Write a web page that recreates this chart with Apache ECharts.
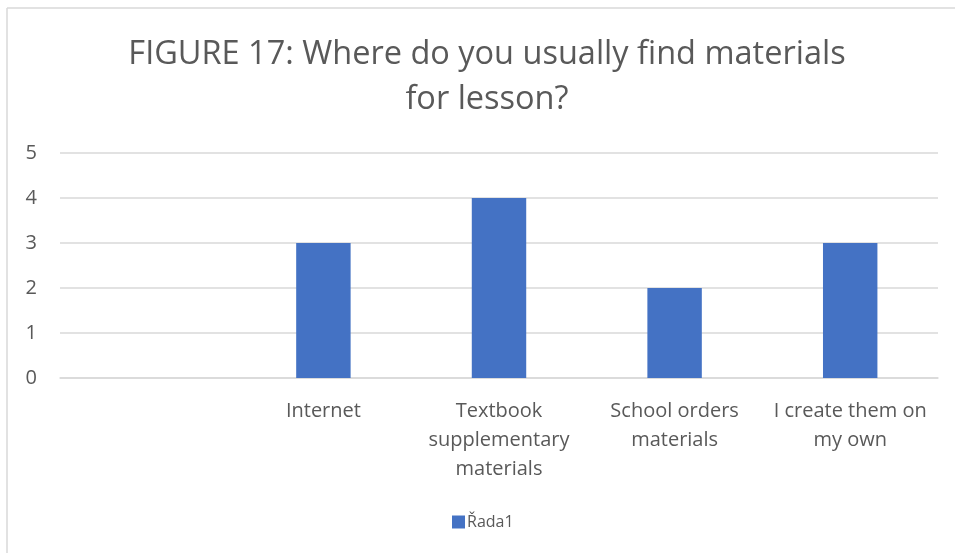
<!DOCTYPE html>
<html>
<head>
<meta charset="utf-8">
<script src="https://cdn.jsdelivr.net/npm/echarts@6/dist/echarts.min.js"></script>
<style>
  html, body { margin: 0; padding: 0; background: #fff; }
  #chart { width: 955px; height: 553px; }
</style>
</head>
<body>
<div id="chart"></div>
<script>
const titleText = "FIGURE 17: Where do you usually find materials\nfor lesson?";
const categories = ["", "Internet", "Textbook\nsupplementary\nmaterials", "School orders\nmaterials", "I create them on\nmy own"];
const values = [null, 3, 4, 2, 3];
const seriesName = "Řada1";
const yTicks = { min: 0, max: 5, interval: 1 };

const font = "'Open Sans', 'Noto Sans', sans-serif";
const textColor = "#595959";
const lineColor = "#d9d9d9";

const chart = echarts.init(document.getElementById("chart"));

chart.setOption({
  animation: false,
  backgroundColor: "#fff",
  title: {
    text: titleText,
    left: 487,
    textAlign: "center",
    top: 27,
    padding: [5, 0, 5, 0],
    textStyle: {
      fontFamily: font,
      fontSize: 32.5,
      fontWeight: "normal",
      color: textColor,
      lineHeight: 45
    }
  },
  legend: {
    bottom: 18,
    left: 447,
    itemWidth: 13,
    itemHeight: 13,
    icon: "rect",
    itemGap: 10,
    textStyle: { fontFamily: font, fontSize: 16, color: textColor, padding: [0, 0, 0, -3] },
    data: [seriesName]
  },
  grid: { left: 60, right: 17, top: 153, bottom: 175 },
  xAxis: {
    type: "category",
    data: categories,
    axisLine: { lineStyle: { color: lineColor, width: 1.5 } },
    axisTick: { show: false },
    axisLabel: {
      interval: 0,
      margin: 19,
      fontFamily: font,
      fontSize: 20,
      color: textColor,
      lineHeight: 29
    }
  },
  yAxis: {
    type: "value",
    min: yTicks.min,
    max: yTicks.max,
    interval: yTicks.interval,
    axisLine: { show: false },
    axisTick: { show: false },
    splitLine: { lineStyle: { color: lineColor, width: 1.5 } },
    axisLabel: { margin: 23, fontFamily: font, fontSize: 20, color: textColor }
  },
  series: [{
    name: seriesName,
    type: "bar",
    data: values,
    barWidth: "31%",
    itemStyle: { color: "#4472c4" }
  }],
  graphic: [
    { type: "line", shape: { x1: 7, y1: 8, x2: 955, y2: 8 }, style: { stroke: lineColor, lineWidth: 1.5 } },
    { type: "line", shape: { x1: 7, y1: 8, x2: 7, y2: 553 }, style: { stroke: lineColor, lineWidth: 1.5 } }
  ]
});
</script>
</body>
</html>
